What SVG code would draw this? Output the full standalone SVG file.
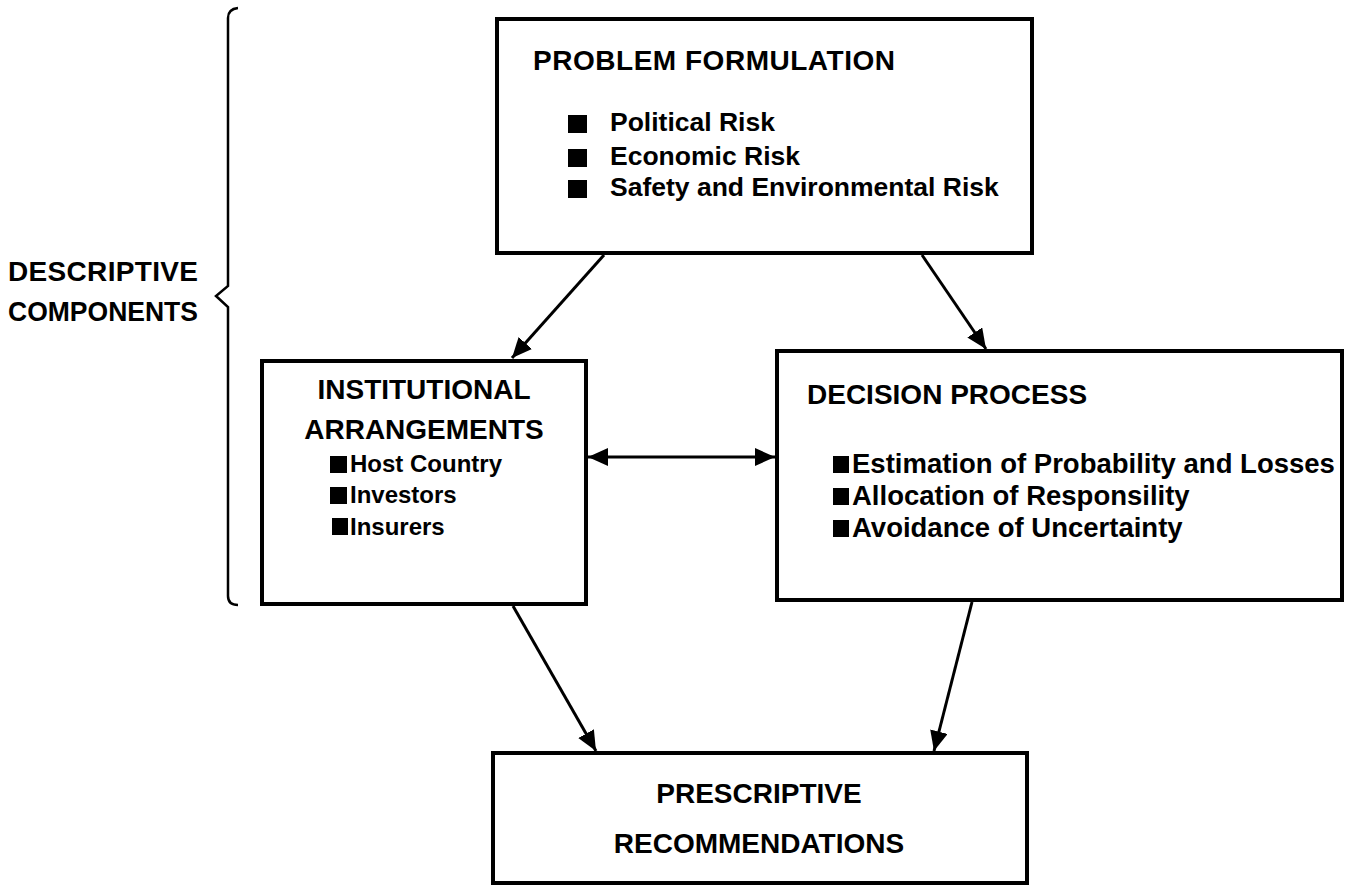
<svg xmlns="http://www.w3.org/2000/svg" width="1354" height="886" viewBox="0 0 1354 886">
  <style>
    .box { fill: #ffffff; stroke: #000000; stroke-width: 4; }
    .t { font-family: "Liberation Sans", Arial, sans-serif; font-weight: bold; fill: #000000; }
    .title { font-size: 28px; }
    .item { font-size: 26.5px; }
    .item3 { font-size: 27.5px; }
    .item2 { font-size: 24px; }
    .sq { fill: #000000; }
    .conn { stroke: #000000; stroke-width: 3; fill: none; }
    .brace { stroke: #000000; stroke-width: 2.5; fill: none; }
  </style>
  <defs>
    <marker id="ah" markerUnits="userSpaceOnUse" markerWidth="22" markerHeight="18" refX="20" refY="9" orient="auto">
      <path d="M0,0 L20,9 L0,18 Z" fill="#000000"/>
    </marker>
    <marker id="ahs" markerUnits="userSpaceOnUse" markerWidth="22" markerHeight="18" refX="0" refY="9" orient="auto">
      <path d="M20,0 L0,9 L20,18 Z" fill="#000000"/>
    </marker>
  </defs>

  <g id="descriptive-label">
    <path class="brace" d="M238,8 Q228,9 228,18 L228,286 L216,296 L228,307 L228,596 Q228,605 238,605"/>
    <text class="t title" x="8" y="281" textLength="190" lengthAdjust="spacing">DESCRIPTIVE</text>
    <text class="t title" x="8" y="321" textLength="190" lengthAdjust="spacingAndGlyphs">COMPONENTS</text>
  </g>

  <g id="problem-formulation">
    <rect class="box" x="497" y="19" width="535" height="234"/>
    <text class="t title" x="533" y="70" textLength="362" lengthAdjust="spacing">PROBLEM FORMULATION</text>
    <rect class="sq" x="568" y="115" width="19" height="18"/>
    <text class="t item" x="610" y="131">Political Risk</text>
    <rect class="sq" x="568" y="149" width="19" height="18"/>
    <text class="t item" x="610" y="165">Economic Risk</text>
    <rect class="sq" x="568" y="180" width="19" height="18"/>
    <text class="t item" x="610" y="196">Safety and Environmental Risk</text>
  </g>

  <g id="institutional-arrangements">
    <rect class="box" x="262" y="361" width="324" height="243"/>
    <text class="t title" x="424" y="399" text-anchor="middle">INSTITUTIONAL</text>
    <text class="t title" x="424" y="439" text-anchor="middle">ARRANGEMENTS</text>
    <rect class="sq" x="330" y="456" width="17" height="17"/>
    <text class="t item2" x="350" y="472">Host Country</text>
    <rect class="sq" x="330" y="487" width="17" height="17"/>
    <text class="t item2" x="350" y="503">Investors</text>
    <rect class="sq" x="332" y="518" width="16" height="17"/>
    <text class="t item2" x="350" y="535">Insurers</text>
  </g>

  <g id="decision-process">
    <rect class="box" x="777" y="351" width="565" height="249"/>
    <text class="t title" x="807" y="404">DECISION PROCESS</text>
    <rect class="sq" x="833" y="456" width="16" height="17"/>
    <text class="t item3" x="852" y="473">Estimation of Probability and Losses</text>
    <rect class="sq" x="833" y="488" width="16" height="17"/>
    <text class="t item3" x="852" y="505">Allocation of Responsility</text>
    <rect class="sq" x="833" y="520" width="16" height="17"/>
    <text class="t item3" x="852" y="537">Avoidance of Uncertainty</text>
  </g>

  <g id="prescriptive-recommendations">
    <rect class="box" x="493" y="753" width="534" height="130"/>
    <text class="t title" x="759" y="803" text-anchor="middle">PRESCRIPTIVE</text>
    <text class="t title" x="759" y="853" text-anchor="middle">RECOMMENDATIONS</text>
  </g>

  <g id="connectors">
    <line class="conn" x1="604" y1="255" x2="512" y2="358" marker-end="url(#ah)"/>
    <line class="conn" x1="922" y1="255" x2="986" y2="349" marker-end="url(#ah)"/>
    <line class="conn" x1="588" y1="457" x2="775" y2="457" marker-start="url(#ahs)" marker-end="url(#ah)"/>
    <line class="conn" x1="513" y1="606" x2="596" y2="751" marker-end="url(#ah)"/>
    <line class="conn" x1="972" y1="602" x2="934" y2="751" marker-end="url(#ah)"/>
  </g>
</svg>
